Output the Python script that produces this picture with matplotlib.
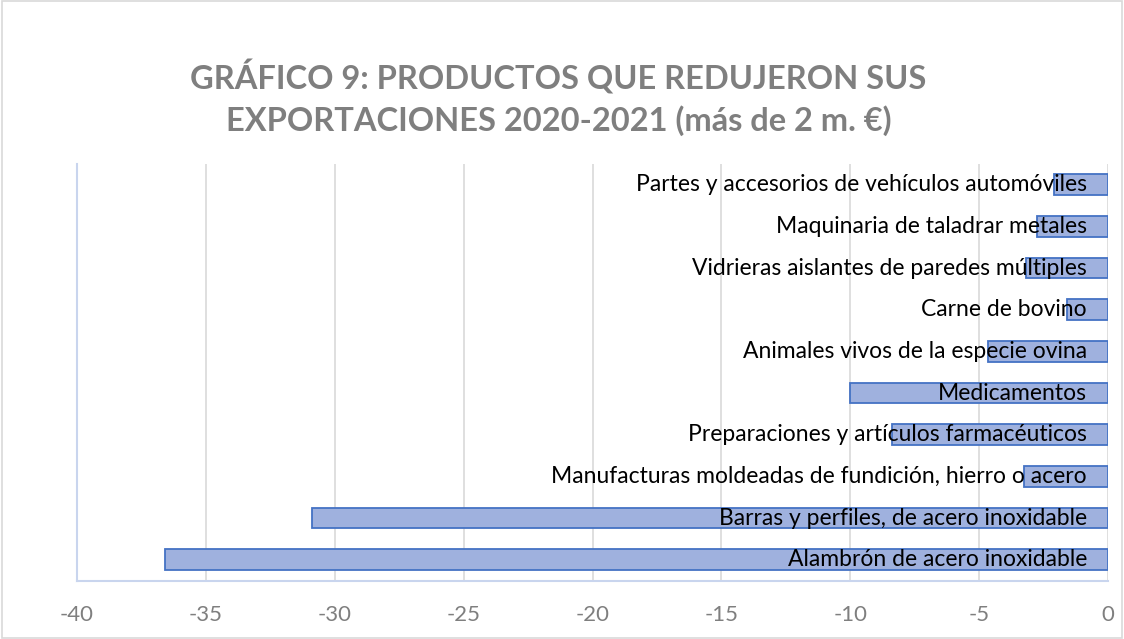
import matplotlib.pyplot as plt
from matplotlib.patches import Rectangle

# data (bottom to top)
products = [
    'Alambrón de acero inoxidable',
    'Barras y perfiles, de acero inoxidable',
    'Manufacturas moldeadas de fundición, hierro o acero',
    'Preparaciones y artículos farmacéuticos',
    'Medicamentos',
    'Animales vivos de la especie ovina',
    'Carne de bovino',
    'Vidrieras aislantes de paredes múltiples',
    'Maquinaria de taladrar metales',
    'Partes y accesorios de vehículos automóviles',
]
change = [-36.6, -30.9, -3.25, -8.4, -10.0, -4.65, -1.6, -3.2, -2.75, -2.1]
xticks = [-40, -35, -30, -25, -20, -15, -10, -5, 0]

plt.rcParams['font.family'] = ['Lato', 'DejaVu Sans']

fig = plt.figure(figsize=(11.24, 6.39), dpi=100)
fig.patches.append(Rectangle((0.0015, 0.002), 0.997, 0.996, transform=fig.transFigure,
                             fill=False, edgecolor='#d9d9d9', lw=1.2))
ax = fig.add_axes([0.0685, 0.0915, 0.9173, 0.652])

pos = range(len(products))
ax.barh(pos, change, height=0.5, color='#9fb1de', edgecolor='#4472c4', lw=1.3, zorder=3)

for i, name in enumerate(products):
    ax.annotate(name, xy=(0, i), xytext=(-21, 0), textcoords='offset pixels',
                ha='right', va='center', fontsize=16.5, color='black', zorder=4)

ax.set_xlim(-40, 0)
ax.set_ylim(-0.5, len(products) - 0.5)
ax.set_xticks(xticks)
ax.set_xticklabels([str(t) for t in xticks])
ax.set_yticks([])
ax.grid(axis='x', color='#d9d9d9', lw=1.2, zorder=0)
ax.tick_params(axis='x', length=0, labelsize=16, labelcolor='#7f7f7f', pad=17.5)
for s in ['top', 'right']:
    ax.spines[s].set_visible(False)
for s in ['left', 'bottom']:
    ax.spines[s].set_color('#c9d5ee')
    ax.spines[s].set_linewidth(1.5)

fig.text(0.497, 0.847, 'GRÁFICO 9: PRODUCTOS QUE REDUJERON SUS\nEXPORTACIONES 2020-2021 (más de 2 m. €)',
         ha='center', va='center', fontsize=23.5, fontweight='bold', color='#7f7f7f',
         linespacing=1.4)

fig.savefig('out.png', dpi=100)
